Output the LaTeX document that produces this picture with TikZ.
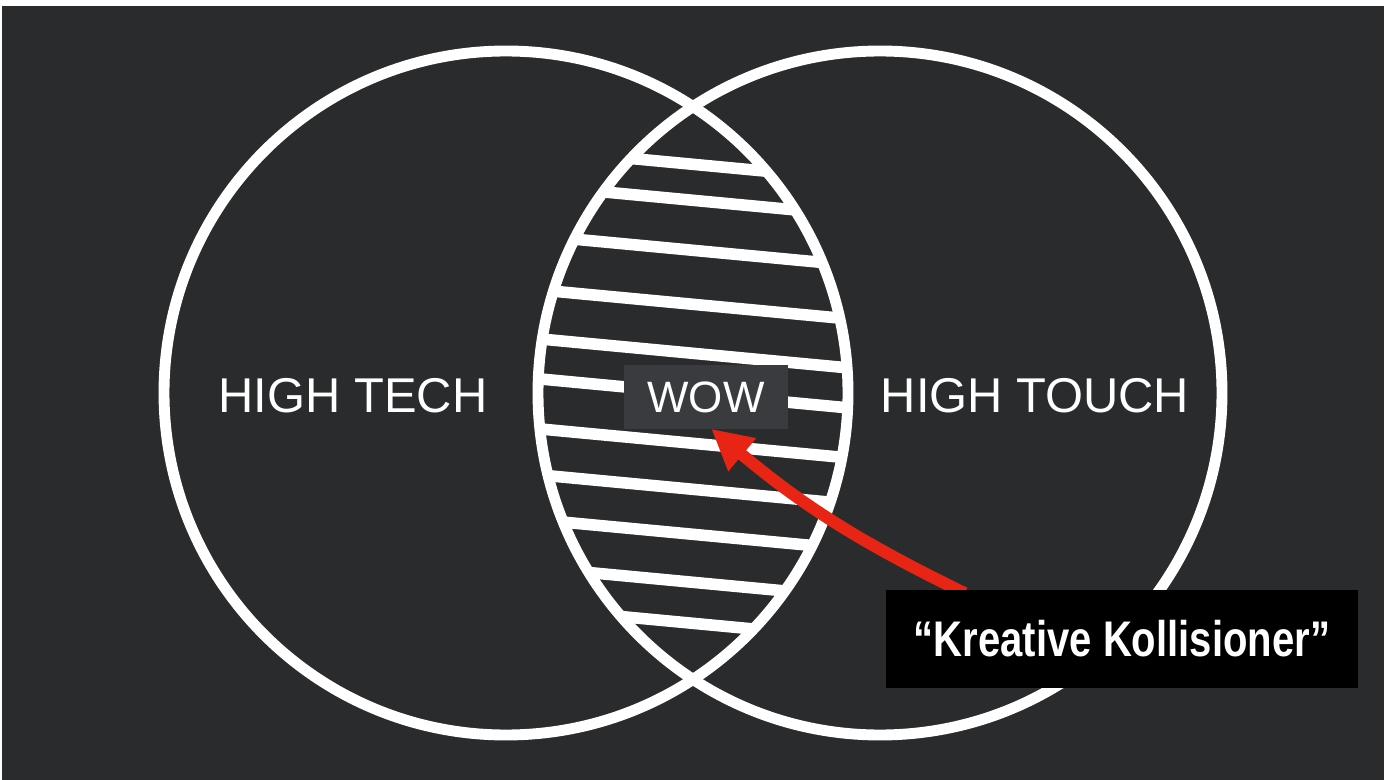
\documentclass[tikz,border=0pt]{standalone}
\usepackage{fontspec}
\setmainfont{Liberation Sans}
\usetikzlibrary{positioning,arrows.meta}

\definecolor{board}{RGB}{42,43,45}
\definecolor{wowgray}{RGB}{58,59,62}
\definecolor{arrowred}{RGB}{232,36,20}

\pgfdeclarelayer{front}
\pgfsetlayers{main,front}

\begin{document}
\begin{tikzpicture}[x=0.02cm, y=-0.02cm,
    chalk/.style={draw=white, line width=6.2pt},
    hatch/.style={white, line width=6.6pt},
    label/.style={text=white, inner sep=0pt, font=\fontsize{27.8}{30}\selectfont},
    wowbox/.style={fill=wowgray, text=white, minimum width=93.9pt, minimum height=35.9pt, font=\fontsize{25}{28}\selectfont},
    notebox/.style={fill=black, text=white, minimum width=268.6pt, minimum height=55.8pt, font=\bfseries\fontsize{28.5}{30}\selectfont},
    pointer/.style={-{Triangle[length=23pt,width=23pt]}, draw=arrowred, line width=6.8pt}
]
\useasboundingbox (0,0) rectangle (1397,780);

% Board
\fill[white] (0,0) rectangle (1397,780);
\fill[board] (2,6) rectangle (1384,780);

% Circle centres
\coordinate (ctech) at (506,393);
\coordinate (ctouch) at (880,393);

% Hatching in the overlap
\begin{scope}
    \clip (ctech) circle[radius=342];
    \clip (ctouch) circle[radius=342];
    \foreach \y in {150,186,236,290,339,379,429,475,520,568,609}
        \draw[hatch] (530,\y-1) -- (860,\y+30);
\end{scope}

% Circles
\draw[chalk] (ctech) circle[radius=342];
\draw[chalk] (ctouch) circle[radius=342];

% Labels
\node[label] (tech) at (353,396) {HIGH TECH};
\node[label] (touch) at (1035,396) {HIGH TOUCH};
\node[wowbox] (wow) at (706,397) {WOW};

% Note (on top of the arrow)
\begin{pgfonlayer}{front}
\node[notebox] (kk) at (1122,639) {\scalebox{0.8}[1]{“Kreative Kollisioner”}};
\end{pgfonlayer}

% Arrow
\draw[pointer] ([xshift=45pt,yshift=-2pt]kk.north west) to[bend left=7] ([xshift=3pt]wow.south);

\end{tikzpicture}
\end{document}
